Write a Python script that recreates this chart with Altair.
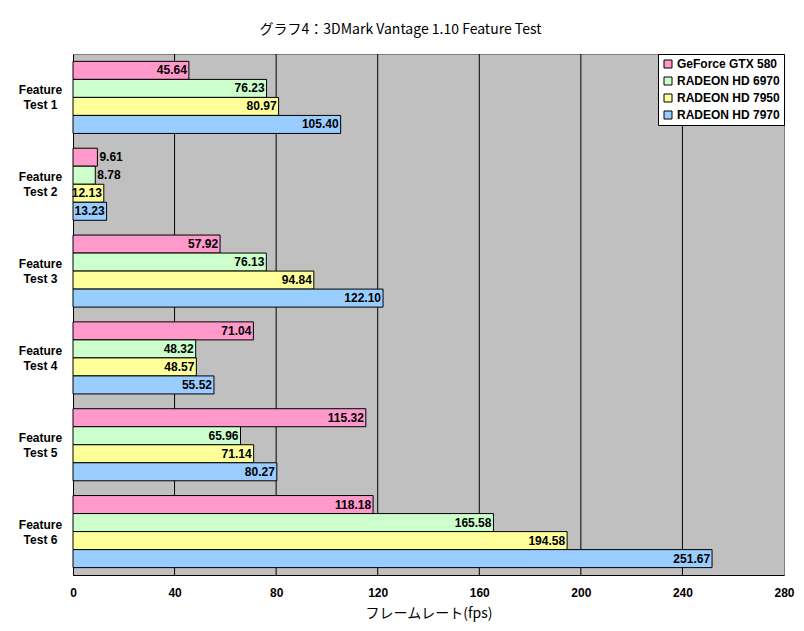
import altair as alt
import pandas as pd

categories = ["Feature Test 1", "Feature Test 2", "Feature Test 3",
              "Feature Test 4", "Feature Test 5", "Feature Test 6"]
series = ["GeForce GTX 580", "RADEON HD 6970", "RADEON HD 7950", "RADEON HD 7970"]
colors = ["#ff99cc", "#ccffcc", "#ffff99", "#99ccff"]

gtx580 = [45.64, 9.61, 57.92, 71.04, 115.32, 118.18]
hd6970 = [76.23, 8.78, 76.13, 48.32, 65.96, 165.58]
hd7950 = [80.97, 12.13, 94.84, 48.57, 71.14, 194.58]
hd7970 = [105.40, 13.23, 122.10, 55.52, 80.27, 251.67]

x_ticks = [0, 40, 80, 120, 160, 200, 240, 280]
grid_values = [40, 80, 120, 160, 200, 240]

title_text = "グラフ4：3DMark Vantage 1.10 Feature Test"
x_title = "フレームレート(fps)"

rows = []
for s, vals in zip(series, [gtx580, hd6970, hd7950, hd7970]):
    for c, v in zip(categories, vals):
        rows.append({"category": c, "series": s, "value": v, "label": f"{v:.2f}"})
df = pd.DataFrame(rows)

LATIN = "Liberation Sans"
JP = "Noto Sans CJK JP"

x_scale = alt.Scale(domain=[0, 280], nice=False, zero=True)

x_axis = alt.Axis(
    values=x_ticks, grid=False, ticks=False, domainColor="black",
    labelPadding=12, labelFlush=False, labelFont=LATIN, labelFontWeight="bold",
    labelFontSize=12, labelColor="black",
    title=x_title, titleFont=JP, titleFontSize=14, titleFontWeight="normal",
    titleColor="black", titlePadding=8,
)

y_enc = alt.Y(
    "category:N", sort=categories,
    scale=alt.Scale(paddingInner=0.17, paddingOuter=0.085),
    axis=alt.Axis(
        title=None, ticks=False, domainColor="black", domainWidth=1,
        labelExpr="['Feature', slice(datum.label, 8)]",
        labelAlign="center", labelBaseline="middle", labelPadding=33,
        labelOffset=-7,
        labelFont=LATIN, labelFontWeight="bold", labelFontSize=12,
        labelLineHeight=15, labelColor="black",
    ),
)
yoff_enc = alt.YOffset("series:N", sort=series,
                       scale=alt.Scale(paddingInner=0, paddingOuter=0))

grid = alt.Chart(pd.DataFrame({"g": grid_values})).mark_rule(
    color="black", strokeWidth=1
).encode(x=alt.X("g:Q", scale=x_scale, axis=x_axis, title=x_title))

base = alt.Chart(df)

bars = base.mark_bar(stroke="black", strokeWidth=1).encode(
    x=alt.X("value:Q", scale=x_scale, axis=x_axis, title=x_title),
    y=y_enc, yOffset=yoff_enc,
    color=alt.Color(
        "series:N", sort=series,
        scale=alt.Scale(domain=series, range=colors),
        legend=alt.Legend(
            title=None, orient="top-right", offset=0,
            fillColor="white", strokeColor="black", padding=4,
            symbolType="square", symbolSize=64, symbolStrokeColor="black",
            symbolStrokeWidth=1, symbolOpacity=1,
            labelFont=LATIN, labelFontWeight="bold", labelFontSize=12,
            labelColor="black", rowPadding=5, symbolOffset=0, labelOffset=3,
        ),
    ),
)

txt_in = base.transform_filter("datum.value >= 10").mark_text(
    align="right", baseline="middle", dx=-2, font=LATIN, fontWeight="bold",
    fontSize=12, color="black",
).encode(x=alt.X("value:Q", scale=x_scale), y=alt.Y("category:N", sort=categories),
         yOffset=alt.YOffset("series:N", sort=series), text="label:N")

txt_out = base.transform_filter("datum.value < 10").mark_text(
    align="left", baseline="middle", dx=2, font=LATIN, fontWeight="bold",
    fontSize=12, color="black",
).encode(x=alt.X("value:Q", scale=x_scale), y=alt.Y("category:N", sort=categories),
         yOffset=alt.YOffset("series:N", sort=series), text="label:N")

chart = alt.layer(grid, bars, txt_in, txt_out).properties(
    width=711, height=521,
    background="white",
    autosize=alt.AutoSizeParams(type="none"),
    padding={"left": 65, "top": 46, "right": 12, "bottom": 50},
    title=alt.TitleParams(
        text=title_text, font=JP, fontSize=14, fontWeight="normal",
        color="black", anchor="middle", dx=-28, offset=17,
    ),
).configure_view(
    fill="#c0c0c0", stroke="#808080", strokeWidth=1
)

chart.save("out.html", embed_options={"renderer": "svg", "actions": False})
